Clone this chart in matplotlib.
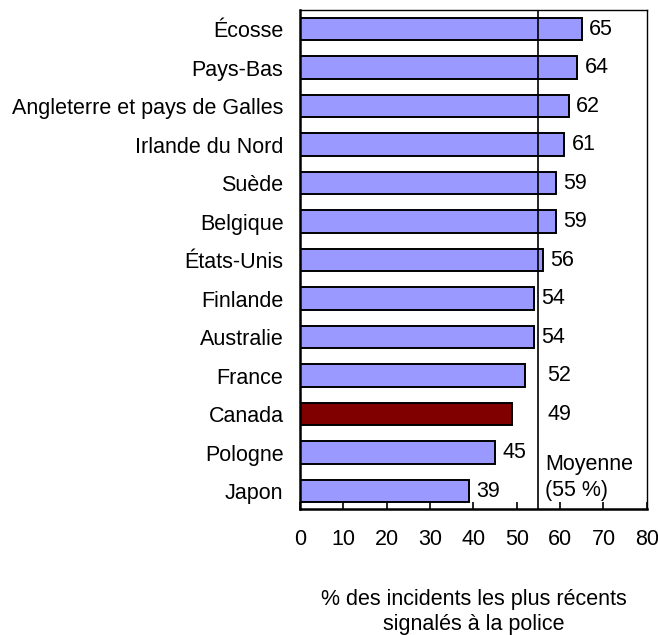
import matplotlib
matplotlib.use("Agg")
import matplotlib.pyplot as plt

plt.rcParams['font.family'] = ['Liberation Sans', 'DejaVu Sans']

# data (top to bottom)
pays = ["Écosse", "Pays-Bas", "Angleterre et pays de Galles", "Irlande du Nord",
        "Suède", "Belgique", "États-Unis", "Finlande", "Australie", "France",
        "Canada", "Pologne", "Japon"]
valeurs = [65, 64, 62, 61, 59, 59, 56, 54, 54, 52, 49, 45, 39]
moyenne = 55
x_ticks = [0, 10, 20, 30, 40, 50, 60, 70, 80]

bleu = '#9999FF'
rouge = '#800000'
couleurs = [rouge if p == "Canada" else bleu for p in pays]

fig = plt.figure(figsize=(6.58, 6.35), dpi=100)
ax = fig.add_axes([0.456, 0.198, 0.527, 0.786])

y = list(range(len(pays)))[::-1]
ax.barh(y, valeurs, height=0.58, color=couleurs, edgecolor='black', linewidth=1.4, zorder=2)
ax.axvline(moyenne, color='black', linewidth=1.2, zorder=3)

fs = 15.5
for yi, v in zip(y, valeurs):
    xt = v + 1.7
    # move the label past the average line when it would cross it
    if xt < moyenne < xt + 5.5:
        xt = moyenne + 2.1
    ax.text(xt, yi, str(v), va='center', ha='left', fontsize=fs)

ax.text(moyenne + 1.6, y[-1] + 0.36, "Moyenne\n(55 %)", va='center', ha='left',
        fontsize=fs, linespacing=1.3)

ax.set_xlim(0, 80)
ax.set_ylim(-0.47, len(pays) - 0.51)
ax.set_yticks(y)
ax.set_yticklabels(pays, fontsize=fs)
ax.set_xticks(x_ticks)
ax.set_xticklabels([str(t) for t in x_ticks], fontsize=fs)
ax.tick_params(axis='y', length=0, pad=12)
ax.tick_params(axis='x', direction='in', length=5, width=1.2, pad=14)
for s in ax.spines.values():
    s.set_linewidth(1.0)
ax.spines['left'].set_linewidth(1.8)
ax.spines['bottom'].set_linewidth(1.8)

ax.set_xlabel("% des incidents les plus récents\nsignalés à la police", fontsize=fs,
              labelpad=28, linespacing=1.3)

fig.savefig("out.png", dpi=100)
plt.close(fig)
